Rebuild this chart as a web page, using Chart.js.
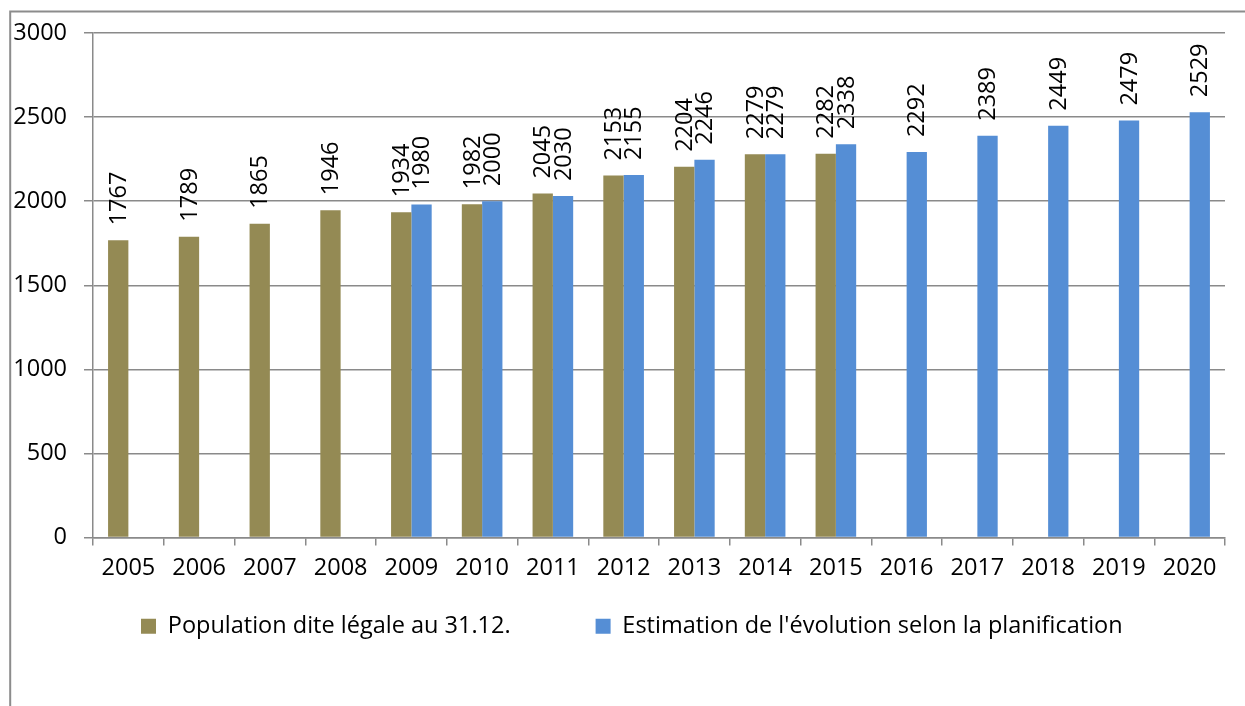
<!DOCTYPE html>
<html>
<head>
<meta charset="utf-8">
<title>Population</title>
<script src="https://cdn.jsdelivr.net/npm/chart.js@4.4.1/dist/chart.umd.min.js"></script>
<style>
  html, body { margin: 0; padding: 0; background: #fff; }
  #wrap { width: 1245px; height: 706px; }
</style>
</head>
<body>
<div id="wrap"><canvas id="popChart" width="1245" height="706"></canvas></div>
<script>
// categories and values
const years = ['2005', '2006', '2007', '2008', '2009', '2010', '2011', '2012',
               '2013', '2014', '2015', '2016', '2017', '2018', '2019', '2020'];
const populationLegale = [1767, 1789, 1865, 1946, 1934, 1982, 2045, 2153,
                          2204, 2279, 2282, null, null, null, null, null];
const estimationPlanif = [null, null, null, null, 1980, 2000, 2030, 2155,
                          2246, 2279, 2338, 2292, 2389, 2449, 2479, 2529];
const yTicks = [0, 500, 1000, 1500, 2000, 2500, 3000];
const seriesNames = ['Population dite légale au 31.12.',
                     "Estimation de l'évolution selon la planification"];

const FONT = '"Open Sans", Lato, sans-serif';
const FSIZE = 23.5;
const GRID = '#8a8a8a';

// grey frame round the chart (left and top edges only are visible)
const frame = {
    id: 'frame',
    beforeDraw(chart) {
        const ctx = chart.ctx;
        ctx.save();
        ctx.strokeStyle = '#8c8c8c';
        ctx.lineWidth = 2;
        ctx.beginPath();
        ctx.moveTo(10.2, chart.height);
        ctx.lineTo(10.2, 11.5);
        ctx.lineTo(chart.width, 11.5);
        ctx.stroke();
        ctx.restore();
    }
};

// rotated value labels above each bar
const valueLabels = {
    id: 'valueLabels',
    afterDatasetsDraw(chart) {
        const ctx = chart.ctx;
        ctx.save();
        ctx.font = FSIZE + 'px ' + FONT;
        ctx.fillStyle = '#000';
        ctx.textAlign = 'left';
        ctx.textBaseline = 'middle';
        chart.data.datasets.forEach((ds, i) => {
            chart.getDatasetMeta(i).data.forEach((bar, j) => {
                const v = ds.data[j];
                if (v == null) return;
                ctx.save();
                ctx.translate(bar.x + 1, bar.y - 15);
                ctx.rotate(-Math.PI / 2);
                ctx.fillText(String(v), 0, 0);
                ctx.restore();
            });
        });
        ctx.restore();
    }
};

// legend sits lower and starts further left than chart.js puts it
const legendPlace = {
    id: 'legendPlace',
    afterLayout(chart) {
        const lg = chart.legend;
        const pad = lg.options.labels.padding;
        const w = lg.right - lg.left, h = lg.bottom - lg.top;
        lg.left = chart.chartArea.left + 48 - pad;
        lg.right = lg.left + w;
        lg.top = chart.chartArea.bottom + 77 - pad;
        lg.bottom = lg.top + h;
    }
};

new Chart('popChart', {
    type: 'bar',
    data: {
        labels: years,
        datasets: [{
            label: seriesNames[0],
            data: populationLegale,
            backgroundColor: '#948A54'
        }, {
            label: seriesNames[1],
            data: estimationPlanif,
            backgroundColor: '#558ED5'
        }]
    },
    options: {
        responsive: false,
        animation: false,
        devicePixelRatio: 1,
        categoryPercentage: 0.574,
        barPercentage: 1,
        layout: { padding: { left: 0, top: 33, right: 20, bottom: 10 } },
        plugins: {
            tooltip: { enabled: false },
            legend: {
                position: 'bottom',
                align: 'start',
                labels: {
                    boxWidth: 15,
                    boxHeight: 15,
                    padding: 85,
                    color: '#000',
                    font: { family: FONT, size: FSIZE }
                }
            }
        },
        scales: {
            x: {
                afterFit(scale) { scale.height = 40; },
                grid: {
                    offset: true,
                    drawOnChartArea: false,
                    tickLength: 8,
                    color: GRID,
                    lineWidth: 1.5
                },
                border: { color: GRID, width: 1.5 },
                ticks: {
                    color: '#000',
                    padding: 9,
                    maxRotation: 0,
                    font: { family: FONT, size: FSIZE }
                }
            },
            y: {
                min: 0,
                max: 3000,
                afterFit(scale) { scale.width = 93; },
                afterBuildTicks(scale) { scale.ticks = yTicks.map(v => ({ value: v })); },
                grid: {
                    tickLength: 9,
                    color: GRID,
                    lineWidth: 1.5
                },
                border: { color: GRID, width: 1.5 },
                ticks: {
                    color: '#000',
                    padding: 17,
                    font: { family: FONT, size: FSIZE },
                    callback: v => String(v)
                }
            }
        }
    },
    plugins: [frame, valueLabels, legendPlace]
});
</script>
</body>
</html>
